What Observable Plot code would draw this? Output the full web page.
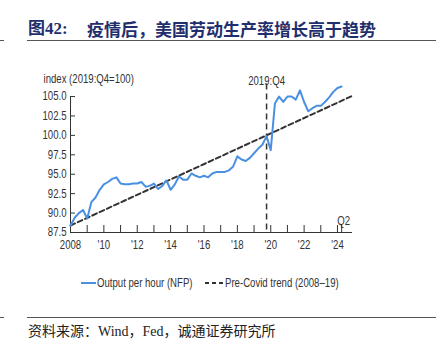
<!DOCTYPE html>
<html><head><meta charset="utf-8">
<script src="https://cdn.jsdelivr.net/npm/d3@7"></script>
<script src="https://cdn.jsdelivr.net/npm/@observablehq/plot@0.6"></script>
<style>
html,body{margin:0;padding:0;background:#fff;}
body{width:447px;height:353px;position:relative;overflow:hidden;}
.abs{position:absolute;}
#title{left:28px;top:19px;height:20px;line-height:20px;font-size:17px;font-weight:bold;color:#1f2f6e;white-space:nowrap;}
#title .fig{font-family:"Liberation Serif","Noto Sans CJK SC",serif;}
#title .txt{font-family:"Noto Sans CJK SC",sans-serif;position:absolute;left:59px;top:0;}
.hr{height:0;border-top:1.5px solid #555;}
#chart{left:0;top:50px;}
#legend{left:0;top:274px;width:447px;height:18px;font-family:"Liberation Sans",Arial,sans-serif;font-size:12px;color:#333;}
#legend .item{position:absolute;top:0;height:18px;line-height:18px;white-space:nowrap;}
#legend svg{position:absolute;top:4px;left:0;}
#legend .lab{position:absolute;top:0;display:inline-block;transform:scaleX(0.8);transform-origin:0 50%;}
#source{left:28px;top:324px;font-size:14px;line-height:16px;color:#222;font-family:"Liberation Serif","Noto Sans CJK SC",serif;white-space:nowrap;}
</style></head>
<body>
<div id="title" class="abs"><span class="fig">图42:</span><span class="txt">疫情后，美国劳动生产率增长高于趋势</span></div>
<div class="abs hr" style="left:27px;top:40px;width:409px;"></div>
<div class="abs hr" style="left:0;top:40px;width:4px;"></div>
<div id="chart" class="abs"></div>
<div id="legend" class="abs"></div>
<div class="abs hr" style="left:27px;top:317px;width:409px;"></div>
<div class="abs hr" style="left:0;top:317px;width:4px;"></div>
<div id="source" class="abs">资料来源：Wind，Fed，诚通证券研究所</div>
<script>
// Output per hour (NFP), quarterly from 2008Q1 to 2024Q2, index 2019:Q4=100
const startYear = 2008;
const outputPerHour = [
  88.4, 89.4, 90.0, 90.4,   // 2008
  89.3, 91.4, 92.0, 93.0,   // 2009
  93.7, 94.0, 94.4, 94.6,   // 2010
  93.8, 93.7, 93.7, 93.8,   // 2011
  93.8, 94.0, 93.4, 93.5,   // 2012
  93.8, 93.1, 93.5, 94.2,   // 2013
  93.0, 93.7, 94.7, 94.3,   // 2014
  94.3, 95.1, 94.8, 94.6,   // 2015
  94.8, 94.6, 95.1, 95.3,   // 2016
  95.3, 95.3, 95.5, 96.0,   // 2017
  97.3, 96.9, 96.7, 97.1,   // 2018
  97.7, 98.3, 98.8, 99.9,   // 2019
  98.1, 104.1, 105.0, 104.3,// 2020
  105.0, 105.0, 104.6, 105.8,// 2021
  104.3, 103.1, 103.5, 103.8,// 2022
  103.8, 104.3, 104.9, 105.6,// 2023
  106.1, 106.3              // 2024
];
// Pre-Covid trend (2008–19), straight line end points
const trendYears = [2008, 2024.9];
const trendValues = [88.4, 105.1];
// Reference marker
const covidYear = 2019.75;
const covidLabel = "2019:Q4";
const lastQuarterYear = 2024.25;
const lastQuarterLabel = "Q2";
// Axes
const yTicks = [87.5, 90, 92.5, 95, 97.5, 100, 102.5, 105];
const xTickYears = d3.range(2008, 2025);
const xLabelYears = [2008, 2010, 2012, 2014, 2016, 2018, 2020, 2022, 2024];
const xLabels = ["2008", "'10", "'12", "'14", "'16", "'18", "'20", "'22", "'24"];
const yAxisTitle = "index (2019:Q4=100)";
const legendLabels = ["Output per hour (NFP)", "Pre-Covid trend (2008–19)"];

const series = outputPerHour.map((v, i) => ({t: startYear + i / 4, v}));
const trend = trendYears.map((t, i) => ({t, v: trendValues[i]}));

const blue = "#4a90e2";
const ink = "#333";
const font = "'Liberation Sans',Arial,sans-serif";
const squeeze = 0.8;

const chart = Plot.plot({
  width: 447,
  height: 215,
  marginLeft: 70,
  marginRight: 95,
  marginTop: 30.5,
  marginBottom: 33,
  style: {fontFamily: font, fontSize: "12px", color: ink, background: "transparent", overflow: "visible"},
  x: {domain: [2008, 2024.9]},
  y: {domain: [87.5, 107]},
  marks: [
    Plot.axisY(yTicks, {tickSize: 0, tickPadding: 4, tickFormat: d => d.toFixed(1), label: null, fill: ink}),
    Plot.axisY(yTicks, {tickSize: -5, text: null, label: null, stroke: ink}),
    Plot.ruleX([2008], {y1: 87.5, y2: 105, stroke: ink, strokeWidth: 1}),
    Plot.ruleY([87.5], {stroke: ink, strokeWidth: 1.2}),
    Plot.axisX(xTickYears.concat([lastQuarterYear]), {tickSize: -7, text: null, label: null, stroke: ink}),
    Plot.axisX(xLabelYears, {tickSize: 0, tickPadding: 8, tickFormat: d => xLabels[xLabelYears.indexOf(d)], label: null, fill: ink}),
    Plot.text([lastQuarterLabel], {x: lastQuarterYear, y: 87.5, dx: 2, dy: -11, text: d => d, fill: ink, textAnchor: "middle"}),
    Plot.ruleX([covidYear], {y1: 106.6, y2: 87.5, stroke: ink, strokeWidth: 1.5, strokeDasharray: "6,4"}),
    Plot.text([covidLabel], {x: covidYear, frameAnchor: "top", dy: -5, text: d => d, fill: ink}),
    Plot.text([yAxisTitle], {frameAnchor: "top-left", dx: -27, dy: -6.5, text: d => d, textAnchor: "start", fill: ink}),
    Plot.line(trend, {x: "t", y: "v", stroke: ink, strokeWidth: 2, strokeDasharray: "5,3"}),
    Plot.line(series, {x: "t", y: "v", stroke: blue, strokeWidth: 2})
  ]
});
// condense chart text horizontally (narrow sans look), keeping each anchor point
chart.querySelectorAll("text").forEach(el => {
  const tr = el.getAttribute("transform") || "";
  el.setAttribute("transform", (tr + ` scale(${squeeze},1)`).trim());
  [el, ...el.querySelectorAll("tspan")].forEach(node => {
    const x = node.getAttribute("x");
    if (x != null && /^-?[\d.]+$/.test(x.trim())) node.setAttribute("x", (+x) / squeeze);
  });
});
document.getElementById("chart").appendChild(chart);

const legend = document.getElementById("legend");
legend.innerHTML =
  `<div class="item" style="left:81px;width:120px"><svg width="15" height="10"><line x1="0" x2="15" y1="5" y2="5" stroke="${blue}" stroke-width="2"/></svg><span class="lab" style="left:16px">${legendLabels[0]}</span></div>` +
  `<div class="item" style="left:205px;width:160px"><svg width="18" height="10"><line x1="0" x2="18" y1="5" y2="5" stroke="${ink}" stroke-width="2" stroke-dasharray="4,3"/></svg><span class="lab" style="left:20px">${legendLabels[1]}</span></div>`;
</script>
</body></html>
